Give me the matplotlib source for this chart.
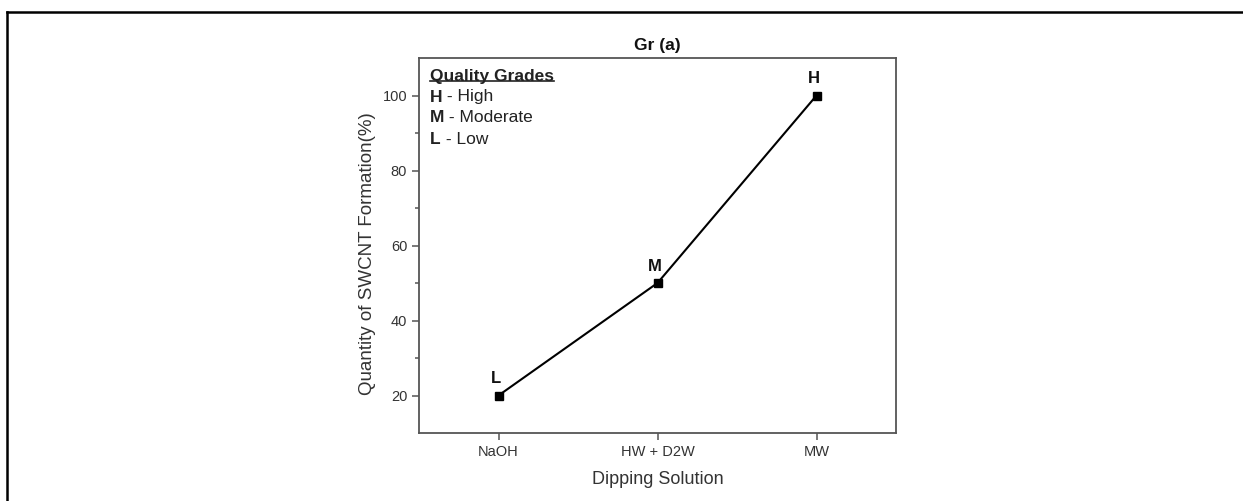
import matplotlib
matplotlib.use("Agg")
import matplotlib.pyplot as plt
from matplotlib.lines import Line2D

plt.rcParams['font.family'] = ['Liberation Sans', 'DejaVu Sans']

categories = ["NaOH", "HW + D2W", "MW"]
quantity = [20, 50, 100]
grades = ["L", "M", "H"]
legend_title = "Quality Grades"
legend_items = [("H", "High"), ("M", "Moderate"), ("L", "Low")]

W, H = 1243, 501
fig = plt.figure(figsize=(W / 100, H / 100), dpi=100)
ax = fig.add_axes([419 / W, 1 - 433 / H, (896 - 419) / W, (433 - 58) / H])

x = list(range(len(categories)))
ax.plot(x, quantity, color='black', lw=1.5, marker='s', ms=6, markeredgecolor='black')
for xi, yi, g in zip(x, quantity, grades):
    ax.annotate(g, (xi, yi), xytext=(-2, 6.5), textcoords='offset points',
                ha='center', va='bottom', fontsize=12, fontweight='bold', color='#111111')

ax.set_xlim(-0.5, 2.5)
ax.set_ylim(10, 110)
ax.set_xticks(x)
ax.set_xticklabels(categories)
ax.set_yticks([20, 40, 60, 80, 100])
ax.set_yticks([30, 50, 70, 90], minor=True)

spine_c = '#555555'
for s in ax.spines.values():
    s.set_color(spine_c)
    s.set_linewidth(1.3)
ax.tick_params(axis='both', which='major', direction='out', length=5, width=1.1,
               color=spine_c, labelcolor='#333333', labelsize=10.5)
ax.tick_params(axis='y', which='minor', direction='out', length=3, width=1.1, color=spine_c)
ax.tick_params(axis='x', which='minor', bottom=False)

ax.set_xlabel("Dipping Solution", fontsize=13, color='#333333', labelpad=9)
ax.set_ylabel("Quantity of SWCNT Formation(%)", fontsize=13.5, color='#333333')
ax.yaxis.set_label_coords(-0.09, 0.478)
ax.set_title("Gr (a)", fontsize=12.5, fontweight='bold', pad=6, color='#111111')

# legend-like text block
fs_leg = 12.5
x0 = 0.023
t = ax.text(x0, 0.952, legend_title, transform=ax.transAxes, fontsize=fs_leg,
            fontweight='bold', color='#222222', ha='left', va='center')
ys = [0.896, 0.840, 0.784]
for (k, v), yy in zip(legend_items, ys):
    tk = ax.text(x0, yy, k, transform=ax.transAxes, fontsize=fs_leg, fontweight='bold',
                 color='#222222', ha='left', va='center')
    fig.canvas.draw()
    bb = tk.get_window_extent().transformed(ax.transAxes.inverted())
    ax.text(bb.x1, yy, " - " + v, transform=ax.transAxes, fontsize=fs_leg,
            color='#222222', ha='left', va='center')

fig.canvas.draw()
bb = t.get_window_extent().transformed(ax.transAxes.inverted())
ax.add_line(Line2D([bb.x0, bb.x1], [bb.y0 + 0.006, bb.y0 + 0.006], transform=ax.transAxes,
                   color='#222222', lw=1.2, clip_on=False))

# outer frame (top and left)
fig.add_artist(Line2D([7 / W, 7 / W], [0, 1 - 12 / H], transform=fig.transFigure,
                      color='black', lw=1.8))
fig.add_artist(Line2D([7 / W, 1], [1 - 12 / H, 1 - 12 / H], transform=fig.transFigure,
                      color='black', lw=1.8))

fig.savefig("out.png", dpi=100)
